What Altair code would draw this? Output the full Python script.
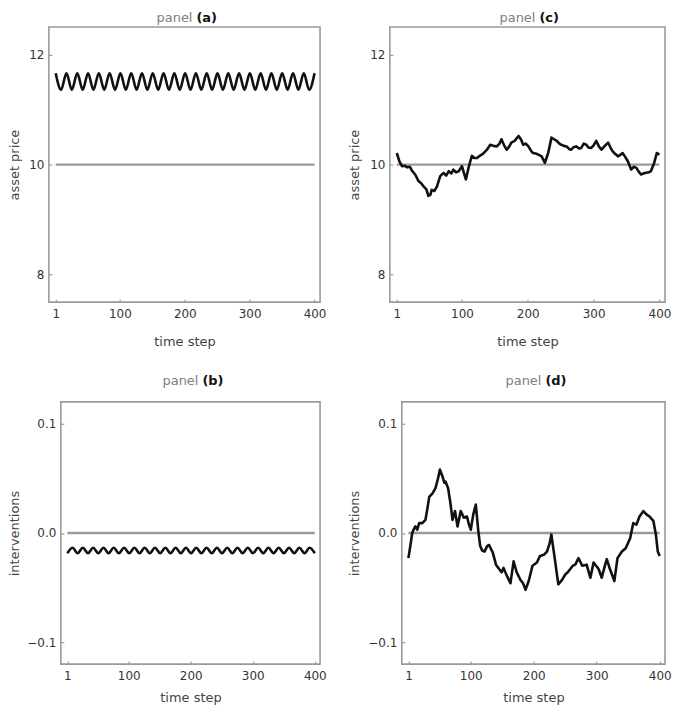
import altair as alt
import pandas as pd

# ---------------- data ----------------
ref_t = [1, 400]
price_ref = [10, 10]
interv_ref = [0.0, 0.0]

# panels (a) and (b): alternating peaks / troughs of the regular oscillation
osc_t = [1, 9.3, 17.6, 25.9, 34.3, 42.6, 50.9, 59.2, 67.5, 75.8, 84.1, 92.5,
         100.8, 109.1, 117.4, 125.7, 134, 142.3, 150.6, 159, 167.3, 175.6,
         183.9, 192.2, 200.5, 208.8, 217.1, 225.5, 233.8, 242.1, 250.4, 258.7,
         267, 275.3, 283.6, 292, 300.3, 308.6, 316.9, 325.2, 333.5, 341.8,
         350.1, 358.5, 366.8, 375.1, 383.4, 391.7, 400]
a_vals = [11.66, 11.36, 11.66, 11.36, 11.66, 11.36, 11.66, 11.36, 11.66, 11.36,
          11.66, 11.36, 11.66, 11.36, 11.66, 11.36, 11.66, 11.36, 11.66, 11.36,
          11.66, 11.36, 11.66, 11.36, 11.66, 11.36, 11.66, 11.36, 11.66, 11.36,
          11.66, 11.36, 11.66, 11.36, 11.66, 11.36, 11.66, 11.36, 11.66, 11.36,
          11.66, 11.36, 11.66, 11.36, 11.66, 11.36, 11.66, 11.36, 11.66]
b_vals = [-0.0185, -0.0135, -0.0185, -0.0135, -0.0185, -0.0135, -0.0185, -0.0135,
          -0.0185, -0.0135, -0.0185, -0.0135, -0.0185, -0.0135, -0.0185, -0.0135,
          -0.0185, -0.0135, -0.0185, -0.0135, -0.0185, -0.0135, -0.0185, -0.0135,
          -0.0185, -0.0135, -0.0185, -0.0135, -0.0185, -0.0135, -0.0185, -0.0135,
          -0.0185, -0.0135, -0.0185, -0.0135, -0.0185, -0.0135, -0.0185, -0.0135,
          -0.0185, -0.0135, -0.0185, -0.0135, -0.0185, -0.0135, -0.0185, -0.0135,
          -0.0185]

# panel (c): asset price path
c_t = [1, 5, 9, 13, 17, 21, 24, 29, 34, 38, 42, 46, 49, 52, 54, 58, 62, 67, 72, 76,
       80, 84, 87, 91, 95, 100, 103, 106, 110, 115, 119, 123, 127, 130, 134, 138,
       143, 148, 153, 157, 160, 164, 168, 172, 175, 180, 186, 190, 193, 197, 201,
       205, 208, 212, 216, 221, 226, 231, 236, 240, 244, 248, 251, 255, 259, 263,
       266, 270, 274, 278, 281, 285, 289, 292, 296, 300, 304, 308, 312, 317, 322,
       326, 329, 333, 337, 341, 344, 348, 352, 357, 361, 365, 368, 372, 376, 380,
       384, 387, 392, 396, 400]
c_v = [10.21, 10.06, 9.97, 9.98, 9.95, 9.96, 9.89, 9.82, 9.70, 9.66, 9.60, 9.55,
       9.43, 9.45, 9.54, 9.52, 9.60, 9.79, 9.85, 9.80, 9.88, 9.84, 9.91, 9.86,
       9.88, 9.97, 9.85, 9.73, 9.94, 10.16, 10.12, 10.12, 10.16, 10.18, 10.22,
       10.27, 10.36, 10.34, 10.33, 10.38, 10.46, 10.35, 10.27, 10.33, 10.40,
       10.43, 10.52, 10.45, 10.36, 10.38, 10.33, 10.25, 10.21, 10.20, 10.18,
       10.15, 10.03, 10.21, 10.49, 10.46, 10.43, 10.38, 10.36, 10.34, 10.33,
       10.28, 10.27, 10.32, 10.33, 10.29, 10.30, 10.38, 10.36, 10.31, 10.30,
       10.35, 10.43, 10.33, 10.27, 10.34, 10.40, 10.30, 10.24, 10.19, 10.15,
       10.18, 10.21, 10.14, 10.06, 9.91, 9.96, 9.94, 9.88, 9.82, 9.84, 9.85,
       9.86, 9.88, 10.03, 10.21, 10.18]

# panel (d): interventions path
d_t = [1, 5, 7, 10, 12, 15, 18, 23, 28, 31, 34, 39, 44, 48, 51, 55, 58, 60, 64, 68,
       71, 75, 79, 84, 89, 94, 97, 100, 104, 108, 112, 115, 118, 122, 126, 129,
       135, 140, 145, 149, 152, 158, 163, 168, 173, 179, 183, 187, 192, 198, 205,
       210, 216, 221, 225, 228, 234, 239, 245, 250, 254, 258, 262, 266, 271, 277,
       284, 290, 295, 299, 303, 308, 312, 316, 321, 328, 333, 340, 346, 353, 358,
       363, 368, 374, 379, 384, 390, 394, 397, 400]
d_v = [-0.023, -0.008, 0.000, 0.004, 0.006, 0.003, 0.009, 0.009, 0.012, 0.022,
       0.033, 0.036, 0.041, 0.050, 0.058, 0.052, 0.046, 0.047, 0.041, 0.026,
       0.012, 0.020, 0.006, 0.020, 0.014, 0.015, 0.008, 0.003, 0.017, 0.026,
       0.0015, -0.012, -0.016, -0.017, -0.012, -0.011, -0.018, -0.029, -0.033,
       -0.036, -0.032, -0.040, -0.046, -0.026, -0.036, -0.043, -0.046, -0.052,
       -0.044, -0.030, -0.027, -0.021, -0.020, -0.017, -0.010, -0.0015, -0.026,
       -0.047, -0.043, -0.038, -0.036, -0.033, -0.030, -0.029, -0.023, -0.030,
       -0.029, -0.041, -0.027, -0.030, -0.033, -0.041, -0.032, -0.024, -0.033,
       -0.044, -0.023, -0.017, -0.014, -0.005, 0.009, 0.0076, 0.015, 0.020,
       0.017, 0.015, 0.011, -0.0015, -0.017, -0.021]

x_ticks = [1, 100, 200, 300, 400]
price_ticks = [8, 10, 12]
interv_ticks = [-0.1, 0.0, 0.1]

FONT = "DejaVu Sans"
X_DOMAIN = [-9.5, 408.5]
GRAY = "#9a9a9a"


def panel(t, v, ref_v, letter, ydomain, yticks, yfmt, ytitle, W, H,
          frame_left, ytitle_x, title_y, xtitle_y, smooth):
    df = pd.DataFrame({"t": t, "v": v})
    ref = pd.DataFrame({"t": ref_t, "v": ref_v})
    one = pd.DataFrame({"k": [0]})
    xs = alt.Scale(domain=X_DOMAIN, range=[frame_left, W], nice=False, zero=False)
    ys = alt.Scale(domain=ydomain, nice=False, zero=False)
    xaxis = alt.Axis(values=x_ticks, format="d", title="time step", offset=-3,
                     tickSize=3, domain=False, grid=False, labelPadding=6,
                     titleY=xtitle_y, titleBaseline="middle")
    yaxis = alt.Axis(values=yticks, format=yfmt, title=ytitle,
                     offset=-frame_left - 3, tickSize=3, domain=False, grid=False,
                     labelPadding=5, titleX=ytitle_x, titleBaseline="middle")
    frame = alt.Chart(one).mark_rect(fillOpacity=0, stroke=GRAY, strokeWidth=1.6).encode(
        x=alt.value(frame_left), x2=alt.value(W), y=alt.value(0), y2=alt.value(H))
    refline = alt.Chart(ref).mark_line(color=GRAY, strokeWidth=2.4).encode(
        x=alt.X("t:Q", scale=xs, axis=xaxis),
        y=alt.Y("v:Q", scale=ys, axis=yaxis))
    line = alt.Chart(df).mark_line(color="#111111", strokeWidth=2.6,
                                   interpolate="monotone" if smooth else "linear",
                                   strokeJoin="round").encode(
        x=alt.X("t:Q", scale=xs, axis=xaxis),
        y=alt.Y("v:Q", scale=ys, axis=yaxis))
    cx = (frame_left + W) / 2
    t1 = alt.Chart(one).mark_text(align="right", baseline="middle", font=FONT,
                                  fontSize=13, color="#808080").encode(
        x=alt.value(cx + 8), y=alt.value(title_y), text=alt.value("panel"))
    t2 = alt.Chart(one).mark_text(align="left", baseline="middle", font=FONT,
                                  fontSize=13, fontWeight="bold", color="#111111").encode(
        x=alt.value(cx + 12), y=alt.value(title_y), text=alt.value("(" + letter + ")"))
    return alt.layer(frame, refline, line, t1, t2).properties(width=W, height=H)


pa = panel(osc_t, a_vals, price_ref, "a", [7.5, 12.5], price_ticks, "d",
           "asset price", 260, 276, -12, -37.5, -9.5, 42, True)
pb = panel(osc_t, b_vals, interv_ref, "b", [-0.12, 0.12], interv_ticks, ".1f",
           "interventions", 260, 263, 0, -49.5, -20.7, 37, True)
pc = panel(c_t, c_v, price_ref, "c", [7.5, 12.5], price_ticks, "d",
           "asset price", 264, 276, -12, -38, -9.5, 42, False)
pd_ = panel(d_t, d_v, interv_ref, "d", [-0.12, 0.12], interv_ticks, ".1f",
            "interventions", 264, 263, 0, -50, -20.7, 37, False)

chart = alt.hconcat(
    alt.vconcat(pa, pb, spacing=27),
    alt.vconcat(pc, pd_, spacing=27),
    spacing=17,
).properties(
    padding={"left": 0, "top": 2, "right": 0, "bottom": 0}
).configure_view(
    strokeWidth=0
).configure_axis(
    labelFont=FONT, labelFontSize=12, labelColor="#333333",
    titleFont=FONT, titleFontSize=13, titleColor="#444444", titleFontWeight="normal",
    tickColor=GRAY, tickWidth=1.2
)

chart.save("out.html", embed_options={"renderer": "svg", "actions": False})
